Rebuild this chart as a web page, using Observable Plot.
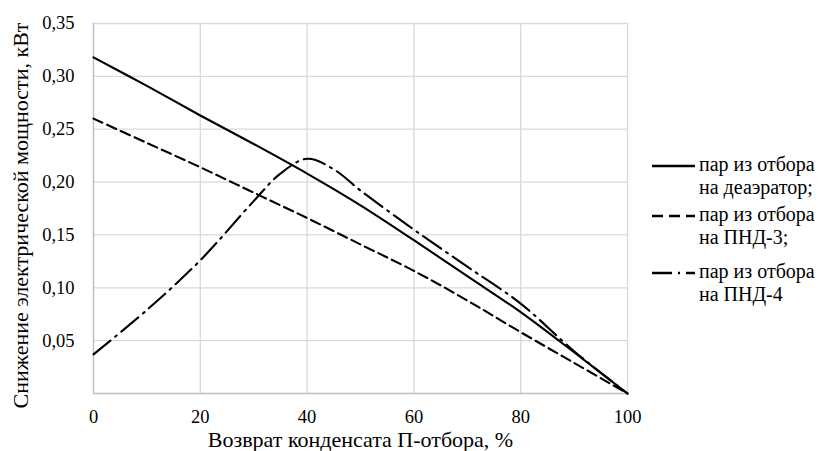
<!DOCTYPE html>
<html><head><meta charset="utf-8">
<script src="https://cdn.jsdelivr.net/npm/d3@7"></script>
<script src="https://cdn.jsdelivr.net/npm/@observablehq/plot@0.6"></script>
<style>
body{margin:0;background:#fff;font-family:'Liberation Serif';}
#wrap{position:relative;width:822px;height:451px;}
#wrap svg text{font-family:'Liberation Serif';}
.lg{position:absolute;left:651px;font-family:'Liberation Serif';font-size:20px;line-height:23px;color:#000;}
.lg svg{position:absolute;left:0;top:8px;}
.lg div{position:absolute;left:48px;top:0;white-space:nowrap;}
</style></head><body><div id="wrap"></div>
<script>
// Data
const xValues = [0, 10, 20, 30, 40, 50, 60, 70, 80, 90, 100];
const deaerator = [0.318, 0.291, 0.263, 0.236, 0.208, 0.178, 0.145, 0.111, 0.077, 0.039, 0.0];
const pnd3 = [0.260, 0.237, 0.214, 0.190, 0.166, 0.141, 0.116, 0.088, 0.058, 0.029, 0.0];
const pnd4X = [0, 10, 20, 30, 35, 40, 45, 50, 60, 70, 80, 90, 100];
const pnd4 = [0.037, 0.079, 0.126, 0.182, 0.208, 0.222, 0.212, 0.192, 0.155, 0.120, 0.085, 0.040, 0.0];
const xTicks = [0, 20, 40, 60, 80, 100];
const yTicks = [0.05, 0.10, 0.15, 0.20, 0.25, 0.30, 0.35];
const xTitle = "Возврат конденсата П-отбора, %";
const yTitle = "Снижение электрической мощности, кВт";
const seriesNames = ["пар из отбора\nна деаэратор;", "пар из отбора\nна ПНД-3;", "пар из отбора\nна ПНД-4"];
const dashes = ["none", "10,5", "22,6,2,6"];
const legendDashes = ["none", "11,6", "20,6,2,6"];

const dataA = xValues.map((x, i) => ({x, y: deaerator[i]}));
const dataB = xValues.map((x, i) => ({x, y: pnd3[i]}));
const dataC = pnd4X.map((x, i) => ({x, y: pnd4[i]}));

const chart = Plot.plot({
  width: 822, height: 451,
  marginLeft: 93, marginRight: 195, marginTop: 23, marginBottom: 58,
  style: {fontFamily: "Liberation Serif", fontSize: "18.5px", color: "#000", background: "#fff"},
  x: {domain: [0, 100]},
  y: {domain: [0, 0.35]},
  marks: [
    Plot.gridX(xTicks, {stroke: "#d9d9d9", strokeOpacity: 1, strokeWidth: 1.3}),
    Plot.gridY(yTicks, {stroke: "#d9d9d9", strokeOpacity: 1, strokeWidth: 1.3}),
    Plot.ruleX([0], {stroke: "#bfbfbf", strokeWidth: 1.3}),
    Plot.ruleY([0], {stroke: "#bfbfbf", strokeWidth: 1.3}),
    Plot.axisX(xTicks, {tickSize: 0, tickPadding: 16, label: null, fill: "#000"}),
    Plot.axisY(yTicks, {tickSize: 0, tickPadding: 19, tickFormat: d => d.toFixed(2).replace(".", ","), label: null, fill: "#000"}),
    Plot.text([xTitle], {frameAnchor: "bottom", dy: 46, textAnchor: "middle", lineAnchor: "middle", fontSize: 22, fill: "#000"}),
    Plot.text([yTitle], {frameAnchor: "left", dx: -73, dy: 7, rotate: -90, textAnchor: "middle", lineAnchor: "middle", fontSize: 22, fill: "#000"}),
    Plot.line(dataA, {x: "x", y: "y", stroke: "#000", strokeWidth: 2.1, curve: "catmull-rom"}),
    Plot.line(dataB, {x: "x", y: "y", stroke: "#000", strokeWidth: 2.1, strokeDasharray: dashes[1], curve: "catmull-rom"}),
    Plot.line(dataC, {x: "x", y: "y", stroke: "#000", strokeWidth: 2.1, strokeDasharray: dashes[2], curve: "catmull-rom"})
  ]
});
const wrap = document.getElementById("wrap");
wrap.appendChild(chart);

const lineYs = [166, 216, 273];
seriesNames.forEach((name, i) => {
  const row = document.createElement("div");
  row.className = "lg";
  row.style.top = (lineYs[i] - 13) + "px";
  const svg = d3.create("svg").attr("width", 46).attr("height", 10);
  svg.append("line").attr("x1", 1).attr("x2", 44).attr("y1", 5).attr("y2", 5)
    .attr("stroke", "#000").attr("stroke-width", 2.6)
    .attr("stroke-dasharray", legendDashes[i] === "none" ? null : legendDashes[i]);
  row.appendChild(svg.node());
  const t = document.createElement("div");
  t.innerHTML = name.split("\n").join("<br>");
  row.appendChild(t);
  wrap.appendChild(row);
});
</script></body></html>
